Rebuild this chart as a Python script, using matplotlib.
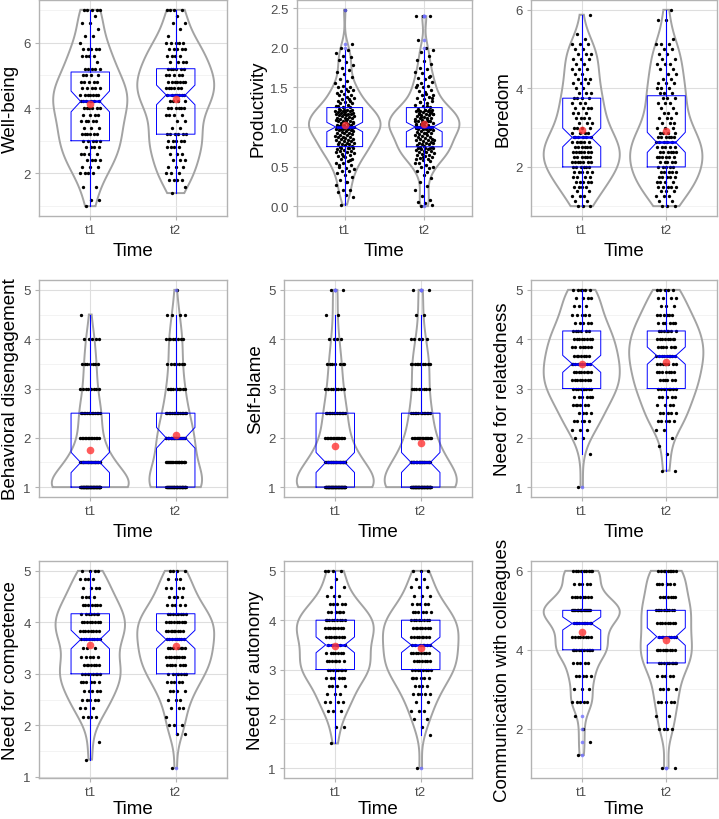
import numpy as np
import matplotlib
matplotlib.use("Agg")
import matplotlib.pyplot as plt
from matplotlib import mlab

plt.rcParams['font.family'] = ['Liberation Sans', 'DejaVu Sans']

times = ["t1", "t2"]

# response levels of each scale and how many people gave each answer
wb_levels = np.linspace(1, 7, 31)
wb_t1 = [1, 2, 0, 2, 0, 4, 3, 4, 4, 4, 5, 6, 3, 5, 4, 6, 6, 7, 5, 5, 4, 5, 1, 4, 5, 1, 2, 1, 2, 1, 5]
wb_t2 = [0, 0, 1, 1, 4, 3, 3, 3, 3, 4, 5, 6, 2, 2, 4, 6, 4, 7, 6, 7, 5, 6, 4, 4, 5, 5, 1, 1, 2, 1, 4]

prod_t1 = [0.02, 0.12, 0.14, 0.18, 0.2, 0.2, 0.27, 0.3, 0.33, 0.37, 0.4, 0.42, 0.44, 0.45, 0.47, 0.48,
           0.5, 0.52, 0.55, 0.55, 0.57, 0.6, 0.6, 0.62, 0.63, 0.65, 0.66, 0.67, 0.68, 0.7, 0.7, 0.71,
           0.72, 0.73, 0.74, 0.74, 0.3, 0.52, 0.58, 0.64, 0.69, 0.73,
           0.75, 0.76, 0.77, 0.78, 0.78, 0.79, 0.8, 0.8, 0.81, 0.82, 0.82, 0.83, 0.84, 0.85, 0.85, 0.86,
           0.87, 0.88, 0.88, 0.89, 0.9, 0.9, 0.91, 0.92, 0.92, 0.93, 0.94, 0.95, 0.95, 0.96, 0.96, 0.97,
           0.97, 0.98, 0.98, 0.99, 0.99, 1.0, 1.0, 1.0, 1.0, 1.0,
           1.01, 1.02, 1.02, 1.03, 1.04, 1.05, 1.05, 1.06, 1.07, 1.08, 1.08, 1.09, 1.1, 1.1, 1.11, 1.12,
           1.12, 1.13, 1.14, 1.14, 1.15, 1.15, 1.16, 1.16, 1.17, 1.17, 1.18, 1.18, 1.19, 1.19, 1.2, 1.2,
           1.2, 1.21, 1.21, 1.22, 1.22, 1.0, 1.0, 1.03, 1.06, 1.09,
           1.23, 1.25, 1.25, 1.27, 1.28, 1.3, 1.3, 1.32, 1.33, 1.35, 1.35, 1.37, 1.38, 1.4, 1.4, 1.42,
           1.43, 1.45, 1.45, 1.47, 1.48, 1.5, 1.5, 1.52, 1.55, 1.58, 1.6, 1.63, 1.67, 1.7, 1.72, 1.75,
           1.78, 1.82, 1.85, 1.88, 1.9, 1.93, 1.97, 2.0, 2.05, 2.48, 1.27, 1.33]
prod_t2 = [0.0, 0.02, 0.04, 0.05, 0.08, 0.13, 0.2, 0.25, 0.3, 0.35, 0.4, 0.45, 0.48, 0.5, 0.5, 0.52,
           0.55, 0.57, 0.58, 0.6, 0.6, 0.61, 0.62, 0.63, 0.65, 0.65, 0.66, 0.67, 0.68, 0.68, 0.7, 0.7,
           0.71, 0.72, 0.72, 0.73, 0.73, 0.74, 0.74, 0.62, 0.55, 0.43,
           0.75, 0.75, 0.76, 0.77, 0.78, 0.79, 0.8, 0.8, 0.8, 0.81, 0.82, 0.83, 0.84, 0.85, 0.85, 0.86,
           0.87, 0.88, 0.89, 0.9, 0.9, 0.91, 0.92, 0.93, 0.94, 0.95, 0.95, 0.96, 0.97, 0.97, 0.98, 0.98,
           0.99, 0.99, 1.0, 1.0, 1.0, 1.0, 1.0, 1.0, 0.83, 0.92,
           1.0, 1.0, 1.01, 1.02, 1.03, 1.04, 1.05, 1.06, 1.07, 1.08, 1.09, 1.1, 1.1, 1.11, 1.12, 1.13,
           1.14, 1.15, 1.15, 1.16, 1.17, 1.18, 1.18, 1.19, 1.2, 1.2, 1.2, 1.21, 1.21, 1.22, 1.22, 1.05,
           1.08, 1.12, 1.16, 1.19, 1.02, 1.04, 1.07, 1.13, 1.17, 1.21,
           1.23, 1.25, 1.27, 1.28, 1.3, 1.32, 1.33, 1.35, 1.37, 1.38, 1.4, 1.4, 1.42, 1.45, 1.47, 1.5,
           1.5, 1.52, 1.55, 1.57, 1.6, 1.62, 1.65, 1.68, 1.7, 1.73, 1.75, 1.8, 1.83, 1.85, 1.9, 1.95,
           1.97, 2.0, 2.1, 2.4, 2.4, 2.4, 1.26, 1.31, 1.36, 1.44, 1.53, 1.63]

bo_levels = np.linspace(1, 6, 41)
bo_t1 = [3, 2, 3, 2, 4, 5, 4, 5, 6, 7, 6, 7, 6, 6, 6, 4, 4, 3, 4, 3, 4,
         3, 4, 3, 2, 3, 3, 2, 3, 2, 3, 3, 2, 3, 1, 1, 0, 0, 0, 1, 0]
bo_t2 = [3, 2, 3, 3, 5, 4, 5, 5, 5, 5, 6, 6, 5, 5, 6, 4, 3, 3, 3, 3, 2,
         3, 3, 3, 3, 3, 2, 2, 2, 3, 2, 2, 2, 3, 1, 0, 0, 0, 2, 0, 1]

half_levels = np.linspace(1, 5, 9)
bd_t1 = [57, 26, 13, 13, 8, 7, 5, 1, 0]
bd_t2 = [40, 20, 22, 14, 10, 7, 8, 4, 1]
sb_t1 = [55, 28, 14, 13, 8, 7, 4, 2, 3]
sb_t2 = [52, 28, 15, 12, 8, 10, 5, 2, 3]

sixth_levels = np.linspace(1, 5, 25)
re_t1 = [1, 0, 0, 0, 1, 0, 2, 3, 5, 4, 6, 6, 9, 8, 8, 9, 7, 7, 8, 6, 5, 5, 3, 4, 6]
re_t2 = [0, 0, 2, 0, 1, 1, 1, 2, 5, 5, 4, 5, 8, 6, 7, 7, 9, 7, 8, 7, 6, 6, 3, 4, 5]
co_t1 = [0, 0, 1, 0, 1, 0, 0, 4, 3, 5, 5, 6, 8, 7, 5, 3, 8, 8, 8, 7, 7, 4, 4, 4, 4]
co_t2 = [0, 1, 0, 0, 0, 2, 3, 1, 3, 3, 4, 5, 7, 7, 9, 7, 8, 9, 9, 8, 5, 4, 4, 3, 4]
au_t1 = [0, 0, 0, 1, 0, 2, 0, 3, 4, 3, 4, 6, 8, 7, 7, 5, 8, 8, 9, 6, 5, 3, 2, 1, 4]
au_t2 = [1, 0, 0, 0, 1, 1, 2, 3, 2, 5, 4, 6, 8, 7, 8, 7, 8, 8, 8, 6, 5, 3, 3, 2, 3]

cm_levels = np.linspace(1, 6, 16)
cm_t1 = [0, 1, 1, 1, 1, 5, 3, 5, 5, 11, 8, 10, 18, 8, 5, 9]
cm_t2 = [2, 0, 0, 4, 2, 5, 4, 5, 9, 10, 8, 8, 10, 7, 6, 9]

ylabels = ["Well-being", "Productivity", "Boredom",
           "Behavioral disengagement", "Self-blame", "Need for relatedness",
           "Need for competence", "Need for autonomy", "Communication with colleagues"]
yticks = [[2, 4, 6], [0, 0.5, 1.0, 1.5, 2.0, 2.5], [2, 4, 6],
          [1, 2, 3, 4, 5], [1, 2, 3, 4, 5], [1, 2, 3, 4, 5],
          [1, 2, 3, 4, 5], [1, 2, 3, 4, 5], [2, 4, 6]]
prod_ticklabels = ["0.0", "0.5", "1.0", "1.5", "2.0", "2.5"]

data = [
    (np.repeat(wb_levels, wb_t1), np.repeat(wb_levels, wb_t2)),
    (np.array(prod_t1), np.array(prod_t2)),
    (np.repeat(bo_levels, bo_t1), np.repeat(bo_levels, bo_t2)),
    (np.repeat(half_levels, bd_t1), np.repeat(half_levels, bd_t2)),
    (np.repeat(half_levels, sb_t1), np.repeat(half_levels, sb_t2)),
    (np.repeat(sixth_levels, re_t1), np.repeat(sixth_levels, re_t2)),
    (np.repeat(sixth_levels, co_t1), np.repeat(sixth_levels, co_t2)),
    (np.repeat(sixth_levels, au_t1), np.repeat(sixth_levels, au_t2)),
    (np.repeat(cm_levels, cm_t1), np.repeat(cm_levels, cm_t2)),
]

# panel boxes in pixels: left, top, right, bottom
W, H = 719, 820
lefts = [39, 297, 531, 39, 284, 531, 39, 284, 531]
rights = [227, 472, 717] * 3
tops = [1] * 3 + [281] * 3 + [562] * 3
bottoms = [217] * 3 + [498] * 3 + [779] * 3

fig = plt.figure(figsize=(W / 100, H / 100), dpi=100)

def nrd0_factor(v):
    sd = np.std(v, ddof=1)
    iqr = np.subtract(*np.percentile(v, [75, 25]))
    h = 0.9 * min(sd, iqr / 1.34) * len(v) ** -0.2
    return h / sd

for k in range(9):
    l, r, t, b = lefts[k], rights[k], tops[k], bottoms[k]
    ax = fig.add_axes([l / W, 1 - b / H, (r - l) / W, (b - t) / H])
    groups = data[k]

    # violins, scaled by area like ggplot
    curves = []
    for v in groups:
        yy = np.linspace(v.min(), v.max(), 300)
        kde = mlab.GaussianKDE(v, bw_method=nrd0_factor(v))
        curves.append((yy, kde.evaluate(yy)))
    dmax = max(c[1].max() for c in curves)
    for i, (yy, d) in enumerate(curves):
        w = 0.45 * d / dmax
        xs = np.concatenate([i + 1 - w, (i + 1 + w)[::-1]])
        ys = np.concatenate([yy, yy[::-1]])
        ax.fill(xs, ys, facecolor='none', edgecolor='#a3a3a3', lw=1.4, zorder=2)

    # jittered points
    for i, v in enumerate(groups):
        off = ((np.arange(len(v)) * 0.6180339887 + 0.31) % 1 - 0.5) * 2 * 0.12
        ax.plot(i + 1 + off, v, 'o', ms=2.4, color='black', mec='none', zorder=3)

    # notched boxes
    ax.boxplot(list(groups), positions=[1, 2], widths=0.45, notch=True, showcaps=False,
               boxprops=dict(color='#0000ff', lw=0.7),
               whiskerprops=dict(color='#0000ff', lw=0.8),
               medianprops=dict(color='#0000ff', lw=1.8),
               flierprops=dict(marker='o', ms=2.6, mfc='#6f6fff', mec='none', alpha=0.8),
               zorder=4)

    # means
    for i, v in enumerate(groups):
        ax.plot(i + 1, v.mean(), 'o', ms=5.5, color='#ff3333', alpha=0.8, mec='none', zorder=5)

    lo = min(v.min() for v in groups)
    hi = max(v.max() for v in groups)
    pad = 0.05 * (hi - lo)
    ax.set_ylim(lo - pad, hi + pad)
    ax.set_xlim(0.4, 2.6)

    ticks = yticks[k]
    ax.set_yticks(ticks)
    if k == 1:
        ax.set_yticklabels(prod_ticklabels)
    else:
        ax.set_yticklabels([str(int(x)) for x in ticks])
    step = ticks[1] - ticks[0]
    minor = [x - step / 2 for x in ticks] + [ticks[-1] + step / 2]
    minor = [m for m in minor if lo - pad <= m <= hi + pad]
    ax.set_yticks(minor, minor=True)
    ax.set_xticks([1, 2])
    ax.set_xticklabels(times)

    ax.set_axisbelow(True)
    ax.grid(True, which='major', color='#dedede', lw=0.8)
    ax.yaxis.grid(True, which='minor', color='#eeeeee', lw=0.5)
    for s in ax.spines.values():
        s.set_color('#b3b3b3')
        s.set_linewidth(1.0)
    ax.tick_params(which='major', length=3, width=0.8, color='#b3b3b3',
                   labelcolor='#4d4d4d', labelsize=9.5, pad=3)
    ax.tick_params(which='minor', length=0)
    ax.set_xlabel("Time", fontsize=13.5, labelpad=1 if k >= 6 else 4)
    ax.set_ylabel(ylabels[k], fontsize=13.5, labelpad=3)

fig.savefig("out.png", dpi=100)
